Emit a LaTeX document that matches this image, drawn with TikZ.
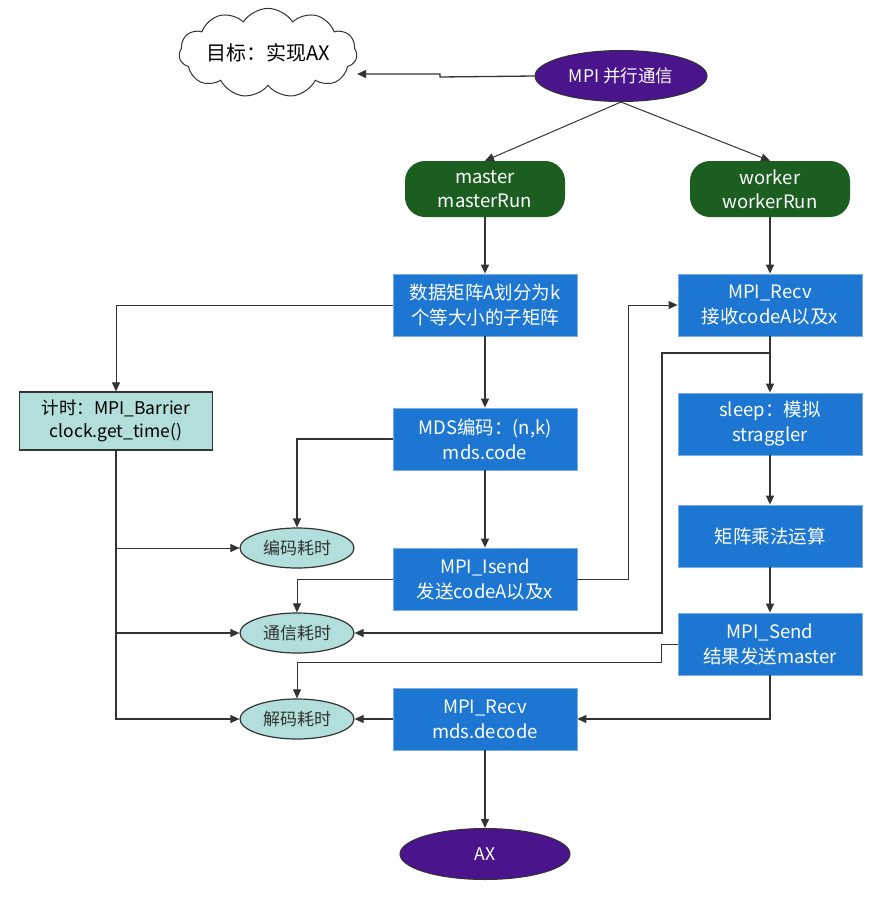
\documentclass[tikz,border=0pt]{standalone}
\usepackage{fontspec}
\setmainfont{Noto Sans CJK SC}
\usetikzlibrary{arrows.meta,shapes.geometric,shapes.symbols}
\definecolor{flowblue}{HTML}{1C76D2}
\definecolor{deeppurple}{HTML}{4A148C}
\definecolor{darkgreen}{HTML}{1B5E20}
\definecolor{paleteal}{HTML}{B2DFDB}
\definecolor{wire}{HTML}{333333}
\begin{document}
\begin{tikzpicture}[x=1pt,y=-1pt,
  font=\fontsize{18.5}{25}\selectfont,
  bluebox/.style={rectangle, fill=flowblue, draw=flowblue!60!white, line width=0.8pt,
    text=white, minimum width=184pt, minimum height=62pt, align=center, inner sep=0pt},
  rolebox/.style={rectangle, rounded corners=20pt, fill=darkgreen, text=white,
    minimum width=160pt, minimum height=56pt, align=center, inner sep=0pt,
    font=\fontsize{18.5}{24}\selectfont},
  terminal/.style={ellipse, fill=deeppurple, draw=wire, line width=1pt, text=white,
    minimum width=172pt, minimum height=51pt, inner sep=0pt,
    font=\fontsize{17.5}{24}\selectfont},
  costnode/.style={ellipse, fill=paleteal, draw=wire, line width=1.2pt, text=wire,
    minimum width=114pt, minimum height=40pt, inner sep=0pt,
    font=\fontsize{17}{24}\selectfont},
  timerbox/.style={rectangle, fill=paleteal, draw=wire, line width=1.2pt, text=black,
    minimum width=193pt, minimum height=58pt, align=center, inner sep=0pt,
    font=\fontsize{17.5}{23}\selectfont},
  goal/.style={cloud, cloud puffs=11, cloud puff arc=115, aspect=2.7, draw=wire,
    line width=1pt, fill=white, minimum width=172pt, minimum height=62pt, inner sep=0pt,
    font=\fontsize{20}{24}\selectfont},
  conn/.style={draw=wire, line width=1.3pt, -{Triangle[length=9pt,width=8pt]}},
  thin conn/.style={conn, line width=1pt}
]
\useasboundingbox (0,0) rectangle (883,900);

% top level
\node[goal] (goal) at (268,53) {目标：实现AX};
\node[terminal] (mpi) at (621,76) {MPI 并行通信};
\node[rolebox] (master) at (485,189) {master\\masterRun};
\node[rolebox] (worker) at (770,189) {worker\\workerRun};

% master column
\node[bluebox] (split) at (485,305) {数据矩阵A划分为k\\个等大小的子矩阵};
\node[bluebox] (encode) at (485,439) {MDS编码：(n,k)\\mds.code};
\node[bluebox] (isend) at (485,579) {MPI\_Isend\\发送codeA以及x};
\node[bluebox] (decode) at (485,719) {MPI\_Recv\\mds.decode};
\node[terminal, minimum width=170pt] (ax) at (485,854) {AX};

% worker column
\node[bluebox] (wrecv) at (770,305) {MPI\_Recv\\接收codeA以及x};
\node[bluebox] (sleep) at (770,424) {sleep：模拟\\straggler};
\node[bluebox] (matmul) at (770,536) {矩阵乘法运算};
\node[bluebox] (wsend) at (770,644) {MPI\_Send\\结果发送master};

% timing
\node[timerbox] (timer) at (116,421) {计时：MPI\_Barrier\\clock.get\_time()};
\node[costnode] (enccost) at (297,548) {编码耗时};
\node[costnode] (commcost) at (297,633) {通信耗时};
\node[costnode] (deccost) at (297,719) {解码耗时};

% routing points
\coordinate (goalbend) at (440,77);
\coordinate (sendup) at (628,579);
\coordinate (recvtap) at (662,353);
\coordinate (resbend) at (661,644);
\coordinate (resdrop) at (661,662);

% main flow
\draw[conn] (mpi.west) -- (goalbend) -- ++(0,-3) -- (goal.east |- 0,74);
\draw[thin conn] (mpi.south) -- (master.north);
\draw[thin conn] (mpi.south) -- (worker.north);
\draw[conn] (master) -- (split);
\draw[conn] (split) -- (encode);
\draw[conn] (encode) -- (isend);
\draw[conn] (decode) -- (ax);
\draw[conn] (worker) -- (wrecv);
\draw[conn] (wrecv) -- (sleep);
\draw[conn] (sleep) -- (matmul);
\draw[conn] (matmul) -- (wsend);

% messages between master and worker
\draw[thin conn] (isend.east) -- (sendup) |- (wrecv.west);
\draw[conn] (wsend.south) |- (decode.east);

% timing connectors
\draw[thin conn] (split.west) -| (timer.north);
\draw[thin conn] (timer.south) |- (enccost.west);
\draw[conn] (timer.south) |- (commcost.west);
\draw[conn] (timer.south) |- (deccost.west);
\draw[conn] (encode.west) -| (enccost.north);
\draw[thin conn] (isend.west) -| (commcost.north);
\draw[conn] (wrecv.south |- recvtap) -- (recvtap) |- (commcost.east);
\draw[thin conn] (wsend.west) -- (resbend) -- (resdrop) -| (deccost.north);
\draw[conn] (decode.west) -- (deccost.east);
\end{tikzpicture}
\end{document}
